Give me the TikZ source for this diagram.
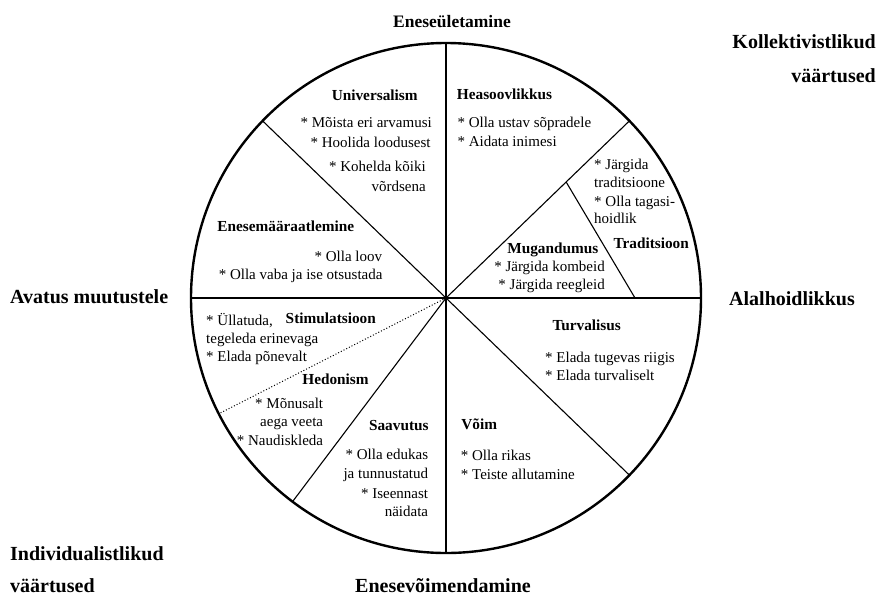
\documentclass[tikz,border=0pt]{standalone}
\usepackage{fontspec}
\setmainfont{Liberation Serif}
\usetikzlibrary{calc}
\begin{document}
\begin{tikzpicture}[x=1pt,y=-1pt,
  ring/.style={draw,circle,line width=2.4pt,inner sep=0pt,outer sep=0pt,minimum size=510pt},
  spoke/.style={line width=1.1pt},
  dotline/.style={line width=1pt,dotted},
  txt/.style={inner sep=0pt,font=\fontsize{15}{18}\selectfont},
  hd/.style={inner sep=0pt,font=\fontsize{15.3}{18}\selectfont\bfseries},
  outer/.style={inner sep=0pt,font=\fontsize{20}{24}\selectfont\bfseries}]
\useasboundingbox (0,0) rectangle (877,595);
\coordinate (c) at (446,298);
\node[ring] (ring) at (c) {};
% spokes
\draw[spoke] (ring.north) -- (ring.south);
\draw[spoke] (ring.west) -- (ring.east);
\draw[spoke] (c) -- (ring.136.4);
\draw[spoke] (c) -- (ring.44.3);
\draw[spoke] (c) -- (ring.-44.4);
\draw[spoke] (c) -- (ring.-127.1);
\draw[dotline] (c) -- (ring.207.6);
\coordinate (t1) at ($(c)!0.655!(ring.44.3)$);
\coordinate (t2) at (635,298);
\draw[spoke] (t1) -- (t2);

% outer labels
\node[outer,anchor=base,font=\fontsize{17.5}{20}\selectfont\bfseries] (top) at (452,27) {Eneseületamine};
\node[outer,anchor=base east] (kol1) at (876,48) {Kollektivistlikud};
\node[outer,anchor=base east] (kol2) at (876,82) {väärtused};
\node[outer,anchor=base west] (left) at (10,303) {Avatus muutustele};
\node[outer,anchor=base west] (right) at (729,305) {Alalhoidlikkus};
\node[outer,anchor=base west] (ind1) at (10,560) {Individualistlikud};
\node[outer,anchor=base west] (ind2) at (10,592) {väärtused};
\node[outer,anchor=base] (bottom) at (443,592) {Enesevõimendamine};

% Universalism
\node[hd,anchor=base] (uh) at (374.7,100) {Universalism};
\node[txt,anchor=base east] (u1) at (432,127.7) {* Mõista eri arvamusi};
\node[txt,anchor=base east] (u2) at (430.7,147.7) {* Hoolida loodusest};
\node[txt,anchor=base east] (u3) at (426,171) {* Kohelda kõiki};
\node[txt,anchor=base east] (u4) at (426,191.7) {võrdsena};
% Enesemääraatlemine
\node[hd,anchor=base] (eh) at (285.8,231.7) {Enesemääraatlemine};
\node[txt,anchor=base east] (e1) at (382.3,261.7) {* Olla loov};
\node[txt,anchor=base east] (e2) at (382.7,279.3) {* Olla vaba ja ise otsustada};
% Heasoovlikkus
\node[hd,anchor=base west] (hh) at (456.7,99.3) {Heasoovlikkus};
\node[txt,anchor=base west] (h1) at (457.3,127.3) {* Olla ustav sõpradele};
\node[txt,anchor=base west] (h2) at (457.3,146) {* Aidata inimesi};
% Traditsioon
\node[txt,anchor=base west] (t3) at (594,169.3) {* Järgida};
\node[txt,anchor=base west] (t4) at (594,187.3) {traditsioone};
\node[txt,anchor=base west] (t5) at (594,206) {* Olla tagasi-};
\node[txt,anchor=base west] (t6) at (594,223.3) {hoidlik};
\node[hd,anchor=base] (th) at (651.2,248.3) {Traditsioon};
% Mugandumus
\node[hd,anchor=base] (mh) at (552.8,253.3) {Mugandumus};
\node[txt,anchor=base east] (m1) at (605,271.7) {* Järgida kombeid};
\node[txt,anchor=base east] (m2) at (605,289.3) {* Järgida reegleid};
% Stimulatsioon
\node[txt,anchor=base west] (s1) at (206,325) {* Üllatuda,};
\node[hd,anchor=base] (sh) at (330.8,323.3) {Stimulatsioon};
\node[txt,anchor=base west] (s2) at (206,343.3) {tegeleda erinevaga};
\node[txt,anchor=base west] (s3) at (206,361.7) {* Elada põnevalt};
% Hedonism
\node[hd,anchor=base] (hdh) at (335.5,384) {Hedonism};
\node[txt,anchor=base east] (hd1) at (323.3,408.3) {* Mõnusalt};
\node[txt,anchor=base east] (hd2) at (323.3,426.7) {aega veeta};
\node[txt,anchor=base east] (hd3) at (323.3,445) {* Naudiskleda};
% Saavutus
\node[hd,anchor=base] (sah) at (398.8,430) {Saavutus};
\node[txt,anchor=base east] (sa1) at (428.3,459.3) {* Olla edukas};
\node[txt,anchor=base east] (sa2) at (428.3,478.3) {ja tunnustatud};
\node[txt,anchor=base east] (sa3) at (428.3,498.3) {* Iseennast};
\node[txt,anchor=base east] (sa4) at (428.3,516) {näidata};
% Turvalisus
\node[hd,anchor=base] (tuh) at (586.7,330.7) {Turvalisus};
\node[txt,anchor=base west] (tu1) at (545,362.7) {* Elada tugevas riigis};
\node[txt,anchor=base west] (tu2) at (545,380.7) {* Elada turvaliselt};
% Võim
\node[hd,anchor=base] (vh) at (479.2,429.3) {Võim};
\node[txt,anchor=base west] (v1) at (460.7,460.7) {* Olla rikas};
\node[txt,anchor=base west] (v2) at (460.7,479.3) {* Teiste allutamine};
\end{tikzpicture}
\end{document}
